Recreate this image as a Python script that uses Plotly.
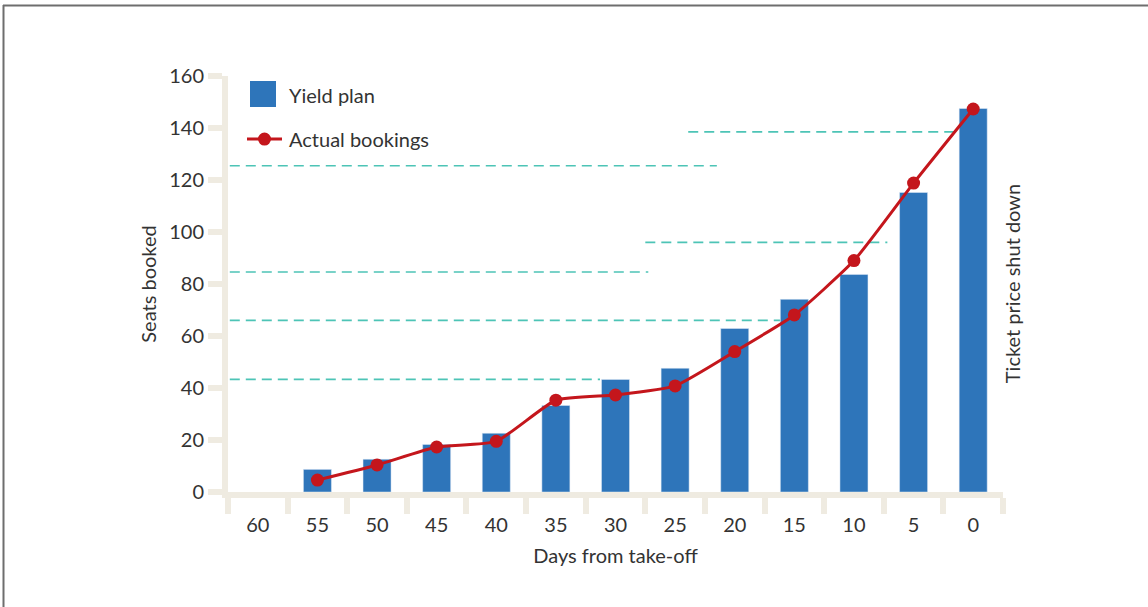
import plotly.graph_objects as go

# ---- data ----
days = ["60", "55", "50", "45", "40", "35", "30", "25", "20", "15", "10", "5", "0"]
yield_plan = [None, 8.7, 12.6, 18.3, 22.6, 33.3, 43.3, 47.6, 62.9, 74.1, 83.7, 115.2, 147.5]
actual_bookings = [None, 4.6, 10.4, 17.3, 19.5, 35.3, 37.3, 40.8, 54.0, 68.1, 89.0, 118.8, 147.3]

# price-threshold dashed lines: level (seats), start/end (category index)
price_levels = [138.5, 125.5, 96.0, 84.6, 66.0, 43.3]
level_start = [7.22, -0.47, 6.5, -0.47, -0.47, -0.47]
level_end = [11.7, 7.7, 10.56, 6.55, 8.76, 5.74]

y_ticks = [0, 20, 40, 60, 80, 100, 120, 140, 160]

BLUE = "#2E75BA"
RED = "#C4161C"
TEAL = "#4DC4B6"
AXIS = "#EFEBE1"
TXT = "#333333"
FONT = "Lato"
FS = 20

fig = go.Figure()
fig.add_trace(go.Bar(x=days, y=yield_plan, name="Yield plan", marker_color=BLUE,
                     width=0.47, showlegend=False))
fig.add_trace(go.Scatter(x=days, y=actual_bookings, name="Actual bookings",
                         mode="lines+markers", line=dict(color=RED, width=3, shape="spline", smoothing=0.5),
                         marker=dict(color=RED, size=13), showlegend=False))

shapes = []
for lvl, s, e in zip(price_levels, level_start, level_end):
    shapes.append(dict(type="line", xref="x", yref="y", x0=s, x1=e, y0=lvl, y1=lvl,
                       line=dict(color=TEAL, width=1.6, dash="10px,6px"), layer="below"))

# frame (top and left)
W, L, T, H = 775.0, 228.0, 76.0, 415.7
def px(x):
    return (x - L) / W
def py(y):
    return (T + H - y) / H
shapes.append(dict(type="line", xref="paper", yref="paper", x0=px(3), x1=px(1148), y0=py(5.5), y1=py(5.5),
                   line=dict(color="#6E6E6E", width=2)))
shapes.append(dict(type="line", xref="paper", yref="paper", x0=px(3.5), x1=px(3.5), y0=py(5), y1=py(607),
                   line=dict(color="#6E6E6E", width=2)))

# custom legend
shapes.append(dict(type="rect", xref="paper", yref="paper", x0=px(250), x1=px(276), y0=py(107), y1=py(81),
                   fillcolor=BLUE, line=dict(width=0)))
shapes.append(dict(type="line", xref="paper", yref="paper", x0=px(247), x1=px(282), y0=py(139), y1=py(139),
                   line=dict(color=RED, width=3)))
shapes.append(dict(type="circle", xref="paper", yref="paper", x0=px(258), x1=px(271), y0=py(145.5), y1=py(132.5),
                   fillcolor=RED, line=dict(width=0)))

annotations = [
    dict(xref="paper", yref="paper", x=px(287), y=py(95), text="Yield plan", showarrow=False,
         xanchor="left", yanchor="middle", font=dict(size=FS, color=TXT, family=FONT)),
    dict(xref="paper", yref="paper", x=px(287), y=py(139), text="Actual bookings", showarrow=False,
         xanchor="left", yanchor="middle", font=dict(size=FS, color=TXT, family=FONT)),
    dict(xref="paper", yref="paper", x=px(1012), y=py(284), text="Ticket price shut down", showarrow=False,
         textangle=-90, xanchor="center", yanchor="middle", font=dict(size=FS, color=TXT, family=FONT)),
]

fig.update_layout(
    width=1148, height=607,
    margin=dict(l=228, r=145, t=76, b=115),
    plot_bgcolor="white", paper_bgcolor="white",
    font=dict(family=FONT, color=TXT, size=FS),
    shapes=shapes, annotations=annotations,
    bargap=0.5,
)
fig.update_xaxes(
    type="category", range=[-0.5, 12.5],
    showline=True, linecolor=AXIS, linewidth=6,
    ticks="outside", tickson="boundaries", ticklen=16, tickwidth=6, tickcolor=AXIS,
    ticklabelstandoff=10,
    showgrid=False, zeroline=False,
    tickfont=dict(size=FS, color=TXT, family=FONT),
    title=dict(text="Days from take-off", font=dict(size=FS, color=TXT, family=FONT), standoff=16),
)
fig.update_yaxes(
    range=[0, 160], tickvals=y_ticks,
    showline=True, linecolor=AXIS, linewidth=6,
    ticks="outside", ticklen=14, tickwidth=6, tickcolor=AXIS,
    showgrid=False, zeroline=False,
    tickfont=dict(size=FS, color=TXT, family=FONT),
    title=dict(text="Seats booked", font=dict(size=FS, color=TXT, family=FONT), standoff=9),
)

fig.write_html("out.html")
